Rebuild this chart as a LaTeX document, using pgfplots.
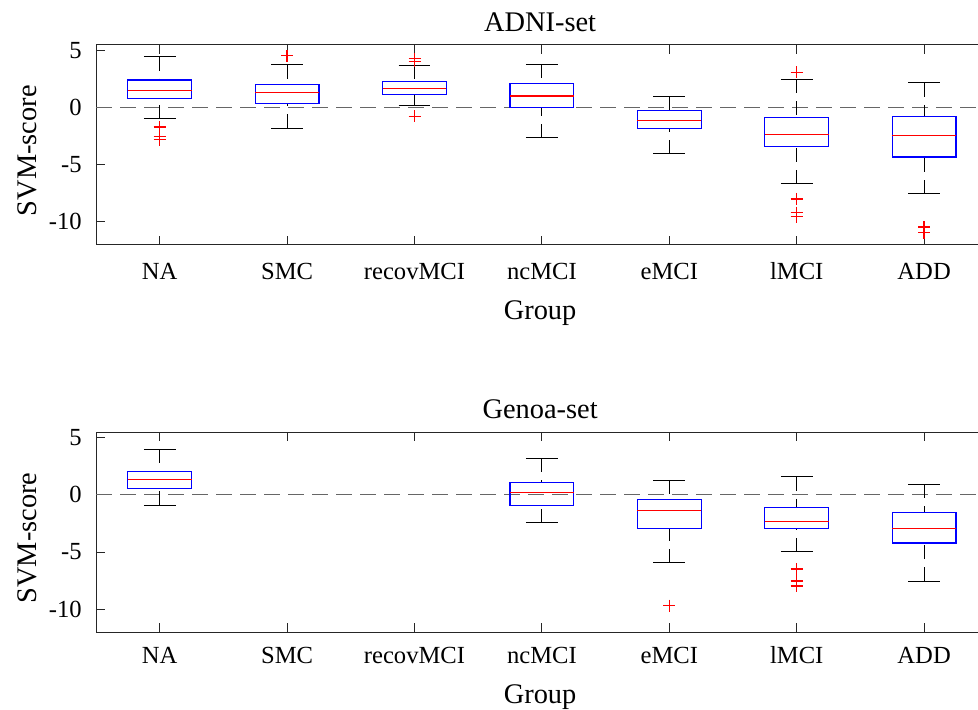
\documentclass[border=0pt]{standalone}
\usepackage{fontspec}
\setmainfont{Liberation Serif}
\usepackage{pgfplots}
\pgfplotsset{compat=1.18}
\usepgfplotslibrary{statistics}

\newcommand{\ticksize}{\fontsize{12.3}{14}\selectfont}
\newcommand{\labsize}{\fontsize{14.2}{16}\selectfont}

\pgfplotsset{
  mybox/.style={
    color=blue, line width=0.6pt, solid,
    boxplot/draw direction=y,
    boxplot/box extend=0.5,
    boxplot/whisker extend=0.25,
    boxplot/every box/.style={color=blue, line width=0.6pt},
    boxplot/every median/.style={color=red, line width=0.6pt},
    boxplot/draw/lower whisker/.code={
      \draw[color=black, line width=0.5pt, dash pattern=on 7pt off 4pt]
        (boxplot box cs:\pgfplotsboxplotvalue{lower whisker},0.5) --
        (boxplot box cs:\pgfplotsboxplotvalue{lower quartile},0.5);
      \draw[color=black, line width=0.5pt, solid]
        (boxplot whisker cs:\pgfplotsboxplotvalue{lower whisker},0) --
        (boxplot whisker cs:\pgfplotsboxplotvalue{lower whisker},1);
    },
    boxplot/draw/upper whisker/.code={
      \draw[color=black, line width=0.5pt, dash pattern=on 7pt off 4pt]
        (boxplot box cs:\pgfplotsboxplotvalue{upper whisker},0.5) --
        (boxplot box cs:\pgfplotsboxplotvalue{upper quartile},0.5);
      \draw[color=black, line width=0.5pt, solid]
        (boxplot whisker cs:\pgfplotsboxplotvalue{upper whisker},0) --
        (boxplot whisker cs:\pgfplotsboxplotvalue{upper whisker},1);
    },
  },
  outl/.style={only marks, mark=+, mark size=3pt, color=red, mark options={color=red, line width=0.7pt, solid}},
  zeroline/.style={color=black!60, line width=0.5pt, dash pattern=on 8pt off 4pt},
  myaxis/.style={
    scale only axis, width=441pt, height=100pt,
    xmin=0.5, xmax=7.423, ymin=-12, ymax=5.5,
    axis x line=box, axis y line=left,
    xtick={1,2,3,4,5,6,7},
    xticklabels={NA,SMC,recovMCI,ncMCI,eMCI,lMCI,ADD},
    ytick={-10,-5,0,5}, yticklabels={-10,-5,0,5},
    xtick pos=both, ytick pos=left,
    tick align=inside, major tick length=4.5pt,
    axis line style={color=black!85, line width=0.5pt, -},
    tick style={color=black!85, line width=0.5pt},
    yticklabel style={font=\ticksize, anchor=east, inner sep=0pt, xshift=-7pt},
    every axis title shift=0pt,
    ylabel={SVM-score}, xlabel={Group},
    clip=true,
  },
}

\begin{document}
\begin{tikzpicture}
\useasboundingbox (0pt,0pt) rectangle (489pt,-355pt);

% ---------------- ADNI-set ----------------
\begin{axis}[myaxis, at={(48pt,-122.35pt)}, anchor=south west,
  title={ADNI-set},
  title style={font=\labsize, anchor=base, at={(axis description cs:0.5035,1.0635)}},
  ylabel style={font=\labsize, anchor=base, at={(axis description cs:-0.0669,0.47)}},
  xticklabel style={font=\ticksize, anchor=base, yshift=-17.5pt},
  xlabel style={font=\labsize, anchor=base, at={(axis description cs:0.5035,-0.375)}},
]
\addplot[zeroline] coordinates {(0.5,0) (7.5,0)};
\addplot[mybox, boxplot prepared={draw position=1, lower whisker=-0.96, lower quartile=0.81, median=1.51, upper quartile=2.41, upper whisker=4.45}] coordinates {};
\addplot[mybox, boxplot prepared={draw position=2, lower whisker=-1.8, lower quartile=0.35, median=1.31, upper quartile=2.0, upper whisker=3.75}] coordinates {};
\addplot[mybox, boxplot prepared={draw position=3, lower whisker=0.14, lower quartile=1.16, median=1.66, upper quartile=2.27, upper whisker=3.72}] coordinates {};
\addplot[mybox, boxplot prepared={draw position=4, lower whisker=-2.65, lower quartile=0.0, median=1.01, upper quartile=2.12, upper whisker=3.8}] coordinates {};
\addplot[mybox, boxplot prepared={draw position=5, lower whisker=-4.05, lower quartile=-1.83, median=-1.11, upper quartile=-0.26, upper whisker=0.96}] coordinates {};
\addplot[mybox, boxplot prepared={draw position=6, lower whisker=-6.66, lower quartile=-3.43, median=-2.33, upper quartile=-0.9, upper whisker=2.47}] coordinates {};
\addplot[mybox, boxplot prepared={draw position=7, lower whisker=-7.53, lower quartile=-4.33, median=-2.47, upper quartile=-0.76, upper whisker=2.15}] coordinates {};
\addplot[outl] coordinates {
  (1,-1.7) (1,-2.55) (1,-2.8)
  (2,4.53)
  (3,4.04) (3,4.27) (3,-0.76)
  (6,3.08) (6,-8.0) (6,-9.2) (6,-9.55)
  (7,-10.45) (7,-10.95)
};
\end{axis}

% ---------------- Genoa-set ----------------
\begin{axis}[myaxis, at={(48pt,-316pt)}, anchor=south west,
  title={Genoa-set},
  title style={font=\labsize, anchor=base, at={(axis description cs:0.5035,1.0685)}},
  ylabel style={font=\labsize, anchor=base, at={(axis description cs:-0.0669,0.47)}},
  xticklabel style={font=\ticksize, anchor=base, yshift=-15.65pt},
  xlabel style={font=\labsize, anchor=base, at={(axis description cs:0.5035,-0.3565)}},
]
\addplot[zeroline] coordinates {(0.5,0) (7.5,0)};
\addplot[mybox, boxplot prepared={draw position=1, lower whisker=-0.9, lower quartile=0.56, median=1.32, upper quartile=2.02, upper whisker=4.0}] coordinates {};
\addplot[mybox, boxplot prepared={draw position=4, lower whisker=-2.42, lower quartile=-0.93, median=0.21, upper quartile=1.09, upper whisker=3.19}] coordinates {};
\addplot[mybox, boxplot prepared={draw position=5, lower whisker=-5.93, lower quartile=-2.95, median=-1.4, upper quartile=-0.44, upper whisker=1.29}] coordinates {};
\addplot[mybox, boxplot prepared={draw position=6, lower whisker=-4.97, lower quartile=-2.95, median=-2.33, upper quartile=-1.08, upper whisker=1.58}] coordinates {};
\addplot[mybox, boxplot prepared={draw position=7, lower whisker=-7.54, lower quartile=-4.21, median=-2.92, upper quartile=-1.54, upper whisker=0.94}] coordinates {};
\addplot[outl] coordinates {
  (5,-9.7)
  (6,-6.49) (6,-7.54) (6,-7.98)
};
\end{axis}
\end{tikzpicture}
\end{document}
